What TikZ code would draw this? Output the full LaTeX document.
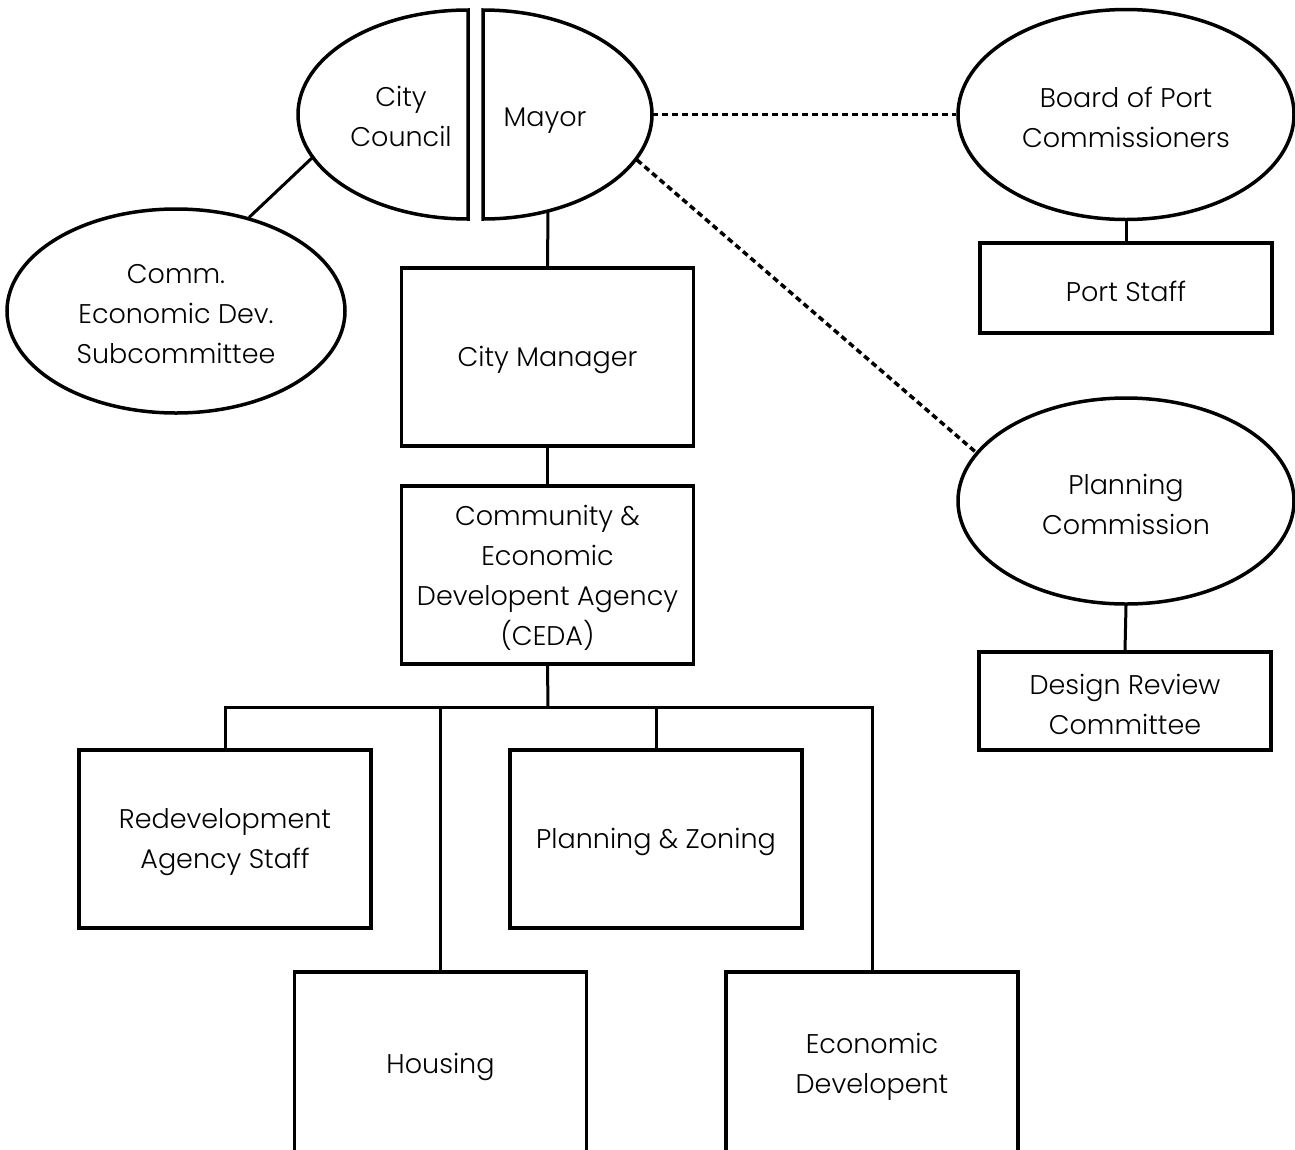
\documentclass[tikz,border=0pt]{standalone}
\usepackage{fontspec}
\setmainfont{Poppins}[UprightFont=* Light]
\usetikzlibrary{shapes.geometric}
\begin{document}
\begin{tikzpicture}[x=1pt,y=-1pt,
  lbl/.style={font=\fontsize{27}{40}\selectfont, align=center},
  txt/.style={label={[lbl, yshift=-3pt]center:#1}},
  orgbox/.style={draw, line width=3.5pt, rectangle, inner sep=0pt, minimum width=292pt},
  oval/.style={draw, line width=3.5pt, ellipse, inner sep=0pt},
  halfoval/.style={draw, line width=3.5pt},
  link/.style={line width=3pt},
  dotlink/.style={line width=3.5pt, dash pattern=on 6pt off 4pt}]
\useasboundingbox (0,0) rectangle (1295,1149);
\clip (0,0) rectangle (1295,1149);

% split ellipse: City Council | Mayor
\draw[halfoval] (468,219) arc[start angle=90, end angle=270, x radius=170, y radius=104.5] -- cycle;
\draw[halfoval] (483,10) arc[start angle=270, end angle=450, x radius=169, y radius=104.5] -- cycle;
\node[lbl] (cc) at (401,116) {City\\Council};
\node[lbl] (mayor) at (545,121) {Mayor};
\coordinate (ccSW) at (313,157);
\coordinate (mayorE) at (652,114.5);
\coordinate (mayorSE) at (637,160);
\coordinate (mayorS) at (548,211);

% ellipses
\node[oval, minimum width=338pt, minimum height=204pt, txt={Comm.\\Economic Dev.\\Subcommittee}] (sub) at (176,311) {};
\node[oval, minimum width=336pt, minimum height=210pt, txt={Board of Port\\Commissioners}] (board) at (1126,114.5) {};
\node[oval, minimum width=336pt, minimum height=206pt, txt={Planning\\Commission}] (pc) at (1126,501) {};

% boxes
\node[orgbox, minimum height=178pt, txt={City Manager}] (cm) at (547.5,357) {};
\node[orgbox, minimum height=178pt, txt={Community \&\\Economic\\Developent Agency\\(CEDA)}] (ceda) at (547.5,575) {};
\node[orgbox, minimum height=90pt, txt={Port Staff}] (port) at (1126,288) {};
\node[orgbox, minimum height=98pt, txt={Design Review\\Committee}] (drc) at (1125,701) {};
\node[orgbox, minimum height=178pt, txt={Redevelopment\\Agency Staff}] (redev) at (225,839) {};
\node[orgbox, minimum height=178pt, txt={Planning \& Zoning}] (pz) at (656,839) {};
\node[orgbox, minimum height=184pt, txt={Housing}] (housing) at (440.5,1064) {};
\node[orgbox, minimum height=184pt, txt={Economic\\Developent}] (econ) at (872,1064) {};

% connectors
\draw[link] (ccSW) -- (sub.52);
\draw[link] (mayorS) -- (cm.north);
\draw[link] (cm.south) -- (ceda.north);
\draw[link] (board.south) -- (port.north);
\draw[link] (pc.south) -- (drc.north);
\draw[dotlink] (mayorE) -- (board.west);
\draw[dotlink] (mayorSE) -- (pc.162.5);

\coordinate (bus) at (548,707);
\draw[link] (ceda.south) -- (bus);
\draw[link] (redev.north) |- (bus);
\draw[link] (housing.north) |- (bus);
\draw[link] (pz.north) |- (bus);
\draw[link] (econ.north) |- (bus);
\end{tikzpicture}
\end{document}
